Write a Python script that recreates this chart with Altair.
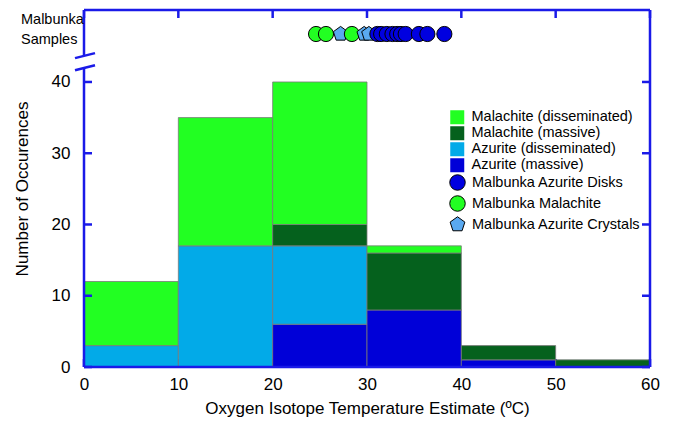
import altair as alt
import pandas as pd

# ---- data ----
bin_start = [0, 10, 20, 30, 40, 50]
bin_end = [10, 20, 30, 40, 50, 60]
categories = ["Azurite (massive)", "Azurite (disseminated)", "Malachite (massive)", "Malachite (disseminated)"]
azurite_massive = [0, 0, 6, 8, 1, 0]
azurite_diss = [3, 17, 11, 0, 0, 0]
malachite_massive = [0, 0, 3, 8, 2, 1]
malachite_diss = [9, 18, 20, 1, 0, 0]
cat_colors = {"Malachite (disseminated)": "#22ff22", "Malachite (massive)": "#05611d",
              "Azurite (disseminated)": "#02aae8", "Azurite (massive)": "#0000d8"}
legend_order = ["Malachite (disseminated)", "Malachite (massive)", "Azurite (disseminated)", "Azurite (massive)"]

sample_temp = [24.6, 25.65, 27.2, 28.4, 29.7, 30.2, 31.1, 31.5, 32.1, 32.7, 33.2, 33.6, 34.1, 35.5, 36.4, 38.2]
sample_type = ["Malbunka Malachite", "Malbunka Malachite", "Malbunka Azurite Crystals", "Malbunka Malachite",
               "Malbunka Azurite Crystals", "Malbunka Azurite Crystals"] + ["Malbunka Azurite Disks"] * 10
sample_order = ["Malbunka Azurite Disks", "Malbunka Malachite", "Malbunka Azurite Crystals"]
sample_colors = ["#0000e0", "#22ff22", "#5aa9f0"]
pentagon = "M0,-1L0.951,-0.309L0.588,0.809L-0.588,0.809L-0.951,-0.309Z"
sample_shapes = ["circle", "circle", pentagon]

y_ticks = [0, 10, 20, 30, 40]
x_ticks = [0, 10, 20, 30, 40, 50, 60]
Y_TOP = 50.1
BREAK_LO = 42.0
BREAK_HI = 43.7

# ---- build tables ----
series = [azurite_massive, azurite_diss, malachite_massive, malachite_diss]
rows = []
for i, (s, e) in enumerate(zip(bin_start, bin_end)):
    cum = 0
    for cat, vals in zip(categories, series):
        v = vals[i]
        if v > 0:
            rows.append({"start": s, "end": e, "cat": cat, "y0": cum, "y1": cum + v})
        cum += v
bars_df = pd.DataFrame(rows)
pts_df = pd.DataFrame({"t": sample_temp, "sample": sample_type})
yt_df = pd.DataFrame({"v": y_ticks})
xt_df = pd.DataFrame({"v": x_ticks})

BLUE = "#1a1ae8"
W, H = 566, 357

xscale = alt.Scale(domain=[0, 60], nice=False)
yscale = alt.Scale(domain=[0, Y_TOP], nice=False)

bars = alt.Chart(bars_df).mark_bar(stroke="#7a7a7a", strokeWidth=0.8).encode(
    x=alt.X("start:Q", scale=xscale,
            axis=alt.Axis(values=x_ticks, domain=False, ticks=False, grid=False, labelFontSize=17,
                          labelPadding=9, labelColor="black", titleFontSize=17, titleFontWeight="normal",
                          titlePadding=8, titleColor="black", labelFlush=False),
            title="Oxygen Isotope Temperature Estimate (ºC)"),
    x2="end:Q",
    y=alt.Y("y0:Q", scale=yscale,
            axis=alt.Axis(values=y_ticks, domain=False, ticks=False, grid=False, labelFontSize=17,
                          labelPadding=14, labelColor="black", titleFontSize=17, titleFontWeight="normal",
                          titlePadding=20, titleColor="black", labelFlush=False),
            title="Number of Occurences"),
    y2="y1:Q",
    color=alt.Color("cat:N", scale=alt.Scale(domain=legend_order, range=[cat_colors[c] for c in legend_order]),
                    legend=alt.Legend(title=None, orient="none", legendX=366, legendY=100,
                                      symbolType="square", symbolSize=196, labelFontSize=14.5,
                                      rowPadding=0, labelOffset=7, labelColor="black", symbolStrokeWidth=0,
                                      labelLimit=0)),
)

pt_legend = alt.Legend(title=None, orient="none", legendX=365, legendY=164, symbolSize=240,
                       labelFontSize=14.5, rowPadding=0, labelOffset=6, labelColor="black",
                       symbolStrokeColor="black", symbolStrokeWidth=1, labelLimit=0)
points = alt.Chart(pts_df).mark_point(filled=True, stroke="black", strokeWidth=1, size=230, opacity=1).encode(
    x=alt.X("t:Q", scale=xscale),
    y=alt.value(24),
    color=alt.Color("sample:N", scale=alt.Scale(domain=sample_order, range=sample_colors), legend=pt_legend),
    shape=alt.Shape("sample:N", scale=alt.Scale(domain=sample_order, range=sample_shapes), legend=pt_legend),
)

frame_top = alt.Chart().mark_rule(color=BLUE, strokeWidth=2.5).encode(
    x=alt.value(0), x2=alt.value(W), y=alt.value(0))
frame_bottom = alt.Chart().mark_rule(color=BLUE, strokeWidth=2.5).encode(
    x=alt.value(0), x2=alt.value(W), y=alt.value(H))
frame_right = alt.Chart().mark_rule(color=BLUE, strokeWidth=2.5).encode(
    x=alt.value(W), y=alt.value(0), y2=alt.value(H))
left_low = alt.Chart().mark_rule(color=BLUE, strokeWidth=2.5).encode(
    x=alt.value(0), y=alt.datum(0, scale=yscale), y2=alt.datum(BREAK_LO))
left_high = alt.Chart().mark_rule(color=BLUE, strokeWidth=2.5).encode(
    x=alt.value(0), y=alt.datum(BREAK_HI), y2=alt.datum(Y_TOP))
brk1 = alt.Chart().mark_rule(color=BLUE, strokeWidth=2.5).encode(
    x=alt.value(-9), x2=alt.value(11), y=alt.datum(BREAK_LO - 0.35), y2=alt.datum(BREAK_LO + 0.35))
brk2 = alt.Chart().mark_rule(color=BLUE, strokeWidth=2.5).encode(
    x=alt.value(-9), x2=alt.value(11), y=alt.datum(BREAK_HI - 0.35), y2=alt.datum(BREAK_HI + 0.35))

lt = alt.Chart(yt_df).mark_rule(color=BLUE, strokeWidth=2.5).encode(
    x=alt.value(0), x2=alt.value(8), y=alt.Y("v:Q", scale=yscale))
rt = alt.Chart(yt_df).mark_rule(color=BLUE, strokeWidth=2.5).encode(
    x=alt.value(W - 8), x2=alt.value(W), y=alt.Y("v:Q", scale=yscale))
tt = alt.Chart(xt_df).mark_rule(color=BLUE, strokeWidth=2.5).encode(
    x=alt.X("v:Q", scale=xscale), y=alt.value(0), y2=alt.value(8))
bt = alt.Chart(xt_df).mark_rule(color=BLUE, strokeWidth=2.5).encode(
    x=alt.X("v:Q", scale=xscale), y=alt.value(H - 8), y2=alt.value(H))

label = alt.Chart().mark_text(text="Malbunka\nSamples", lineBreak="\n", align="left", baseline="top",
                               fontSize=14.5, lineHeight=20, color="black").encode(
    x=alt.value(-63), y=alt.value(3))

chart = alt.layer(bt, bars, points, frame_top, frame_bottom, frame_right, left_low, left_high,
                  brk1, brk2, lt, rt, tt, label).resolve_scale(
    color="independent", shape="independent").properties(
    width=W, height=H, padding={"left": 5, "top": 0, "right": 5, "bottom": 5}
).configure(font="Liberation Sans").configure_view(stroke=None)

chart.save("out.html", embed_options={"renderer": "svg", "actions": False})
